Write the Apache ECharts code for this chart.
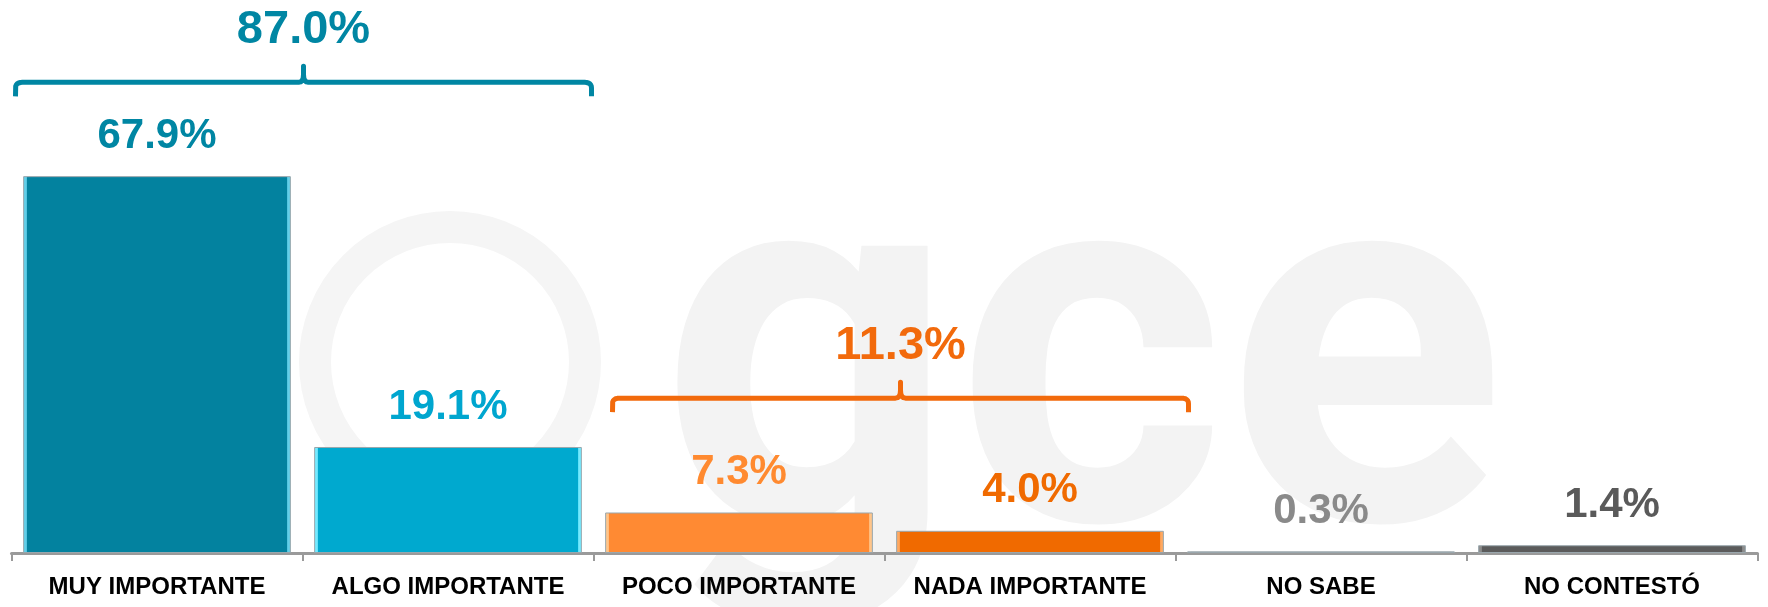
<!DOCTYPE html>
<html>
<head>
<meta charset="utf-8">
<title>Importancia</title>
<script src="https://cdn.jsdelivr.net/npm/echarts@6/dist/echarts.min.js"></script>
<style>
  html, body { margin: 0; padding: 0; background: #fff; }
  #chart { width: 1768px; height: 607px; }
</style>
</head>
<body>
<div id="chart"></div>
<script>
// data
const categories = ['MUY IMPORTANTE', 'ALGO IMPORTANTE', 'POCO IMPORTANTE', 'NADA IMPORTANTE', 'NO SABE', 'NO CONTESTÓ'];
const values = [67.9, 19.1, 7.3, 4.0, 0.3, 1.4];
const groupRanges = [[0, 1], [2, 3]];
const groupTotals = [87.0, 11.3];

// styles
const barColors = ['#03829f', '#00a9cf', '#ff8a33', '#f06a00', '#a6a6a6', '#5b5b5b'];
const edgeColors = ['#62cfe9', '#74eaff', '#ffc58a', '#ffa860', '#cfcfcf', '#8c8c8c'];
const labelColors = ['#0086a3', '#00a6cf', '#ff8a30', '#f06a00', '#8a8a8a', '#5a5a5a'];
const groupColors = ['#0086a3', '#f26a0c'];
const groupLevels = [84.8, 27.9];           // brace height, in axis units
const groupShift = [[4, -2], [19, 13]];     // pixel nudges of brace ends
const FONT = "'Liberation Sans', Arial, sans-serif";

const chart = echarts.init(document.getElementById('chart'));

function barFill(i) {
  return new echarts.graphic.LinearGradient(0, 0, 1, 0, [
    { offset: 0, color: edgeColors[i] },
    { offset: 0.012, color: edgeColors[i] },
    { offset: 0.016, color: barColors[i] },
    { offset: 0.984, color: barColors[i] },
    { offset: 0.988, color: edgeColors[i] },
    { offset: 1, color: edgeColors[i] }
  ]);
}

chart.setOption({
  animation: false,
  grid: { left: 11.5, right: 10.5, top: 109, bottom: 54, containLabel: false },
  xAxis: {
    type: 'category',
    data: categories,
    axisLine: { lineStyle: { color: '#9a9a9a', width: 3 } },
    axisTick: { show: true, length: 8, interval: 0, lineStyle: { color: '#9a9a9a', width: 2 } },
    axisLabel: {
      interval: 0, margin: 22, color: '#000', fontSize: 24,
      fontWeight: 'bold', fontFamily: FONT
    }
  },
  yAxis: { type: 'value', min: 0, max: 80, show: false, splitLine: { show: false } },
  series: [{
    type: 'bar',
    z: 3,
    barCategoryGap: '8%',
    data: values.map((v, i) => ({
      value: v,
      itemStyle: { color: barFill(i), borderColor: '#9aa7ad', borderWidth: 1 },
      label: { color: labelColors[i] }
    })),
    label: {
      show: true, position: 'top', distance: 19,
      fontSize: 42, lineHeight: 42, fontWeight: 'bold', fontFamily: FONT,
      formatter: p => p.value.toFixed(1) + '%'
    }
  }]
});

// quadratic curve sampled to points
function quad(p0, p1, p2, n) {
  const pts = [];
  for (let i = 1; i <= n; i++) {
    const t = i / n, u = 1 - t;
    pts.push([u * u * p0[0] + 2 * u * t * p1[0] + t * t * p2[0],
              u * u * p0[1] + 2 * u * t * p1[1] + t * t * p2[1]]);
  }
  return pts;
}

function drawBraces() {
  const px = (i, v) => chart.convertToPixel({ gridIndex: 0 }, [i, v]);
  const band = px(1, 0)[0] - px(0, 0)[0];
  const graphics = [
    // faint logo watermark
    {
      type: 'circle', z: 0, silent: true,
      shape: { cx: 450, cy: 362, r: 135 },
      style: { fill: 'none', stroke: '#f5f5f5', lineWidth: 32 }
    },
    {
      type: 'text', z: 0, silent: true, x: 660, y: 390,
      style: {
        text: 'gce', fontSize: 518, fontWeight: 'bold', fontFamily: 'Roboto, sans-serif',
        fill: '#f3f3f3', align: 'left', verticalAlign: 'middle'
      }
    }
  ];
  groupRanges.forEach((r, g) => {
    const y = px(0, groupLevels[g])[1];
    const L = px(r[0], 0)[0] - band / 2 + groupShift[g][0];
    const R = px(r[1], 0)[0] + band / 2 + groupShift[g][1];
    const cx = (L + R) / 2;
    const drop = 14, rise = 16, k = 7;
    let pts = [[L, y + drop]];
    pts = pts.concat(quad([L, y + drop * 0.4], [L, y], [L + k, y], 6));
    pts.push([cx - 5, y]);
    pts = pts.concat(quad([cx - 5, y], [cx, y], [cx, y - rise * 0.5], 4));
    pts.push([cx, y - rise]);
    pts.push([cx, y - rise * 0.5]);
    pts = pts.concat(quad([cx, y - rise * 0.5], [cx, y], [cx + 5, y], 4));
    pts.push([R - k, y]);
    pts = pts.concat(quad([R - k, y], [R, y], [R, y + drop * 0.4], 6));
    pts.push([R, y + drop]);
    graphics.push({
      type: 'polyline', z: 10, silent: true,
      shape: { points: pts },
      style: { fill: null, stroke: groupColors[g], lineWidth: 5, lineJoin: 'round' }
    });
    graphics.push({
      type: 'text', z: 10, silent: true, x: cx, y: y - 52,
      style: {
        text: groupTotals[g].toFixed(1) + '%', fill: groupColors[g],
        fontSize: 47, fontWeight: 'bold', fontFamily: FONT,
        align: 'center', verticalAlign: 'middle'
      }
    });
  });
  chart.setOption({ graphic: graphics });
}
drawBraces();
</script>
</body>
</html>
